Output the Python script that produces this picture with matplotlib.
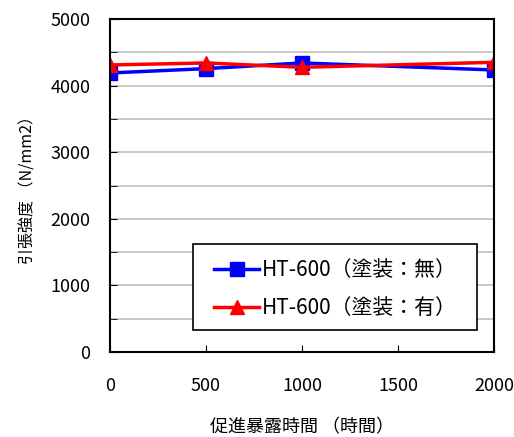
import matplotlib
matplotlib.use("Agg")
import matplotlib.pyplot as plt
from matplotlib.patches import Rectangle
from matplotlib.ticker import MultipleLocator

plt.rcParams['font.family'] = ['Noto Sans CJK JP', 'DejaVu Sans']

# data
hours = [0, 500, 1000, 2000]
no_coat = [4190, 4255, 4340, 4235]
coat = [4310, 4340, 4275, 4350]
labels = ["HT-600（塗装：無）", "HT-600（塗装：有）"]

W, H = 514, 437
fig = plt.figure(figsize=(W / 100, H / 100), dpi=100)
ax = fig.add_axes([0.214, 0.1945, 0.747, 0.762])

ax.plot(hours, no_coat, color="#0000ff", lw=2.5, marker="s", ms=10, label=labels[0])
ax.plot(hours, coat, color="#ff0000", lw=2.5, marker="^", ms=10, label=labels[1])

ax.set_xlim(0, 2000)
ax.set_ylim(0, 5000)
ax.xaxis.set_major_locator(MultipleLocator(500))
ax.yaxis.set_major_locator(MultipleLocator(1000))
ax.yaxis.set_minor_locator(MultipleLocator(500))
ax.grid(axis="y", which="both", color="#c0c0c0", lw=1.2)
ax.set_axisbelow(True)

ax.tick_params(which="both", direction="in", length=5, labelsize=13)
ax.tick_params(axis="x", pad=18)
ax.tick_params(axis="y", pad=14)
for s in ax.spines.values():
    s.set_color("black")
    s.set_linewidth(1.5)

ax.set_xlabel("促進暴露時間 （時間）", fontsize=13, labelpad=17)
ax.set_ylabel("引張強度 （N/mm2）", fontsize=11.5, labelpad=10)

# legend box (white, black border) with the entries centred in it
box = Rectangle((193 / W, 1 - 330 / H), 284 / W, 86 / H, transform=fig.transFigure,
                facecolor="white", edgecolor="black", lw=1.2, zorder=5, clip_on=False)
ax.add_patch(box)
leg = ax.legend(loc="center", bbox_to_anchor=(335 / W, 1 - 289 / H),
                bbox_transform=fig.transFigure, fontsize=15, frameon=False,
                handlelength=2.2, labelspacing=0.75, handletextpad=0.1,
                borderpad=0, borderaxespad=0)
leg.set_zorder(6)

fig.savefig("out.png", dpi=100)
